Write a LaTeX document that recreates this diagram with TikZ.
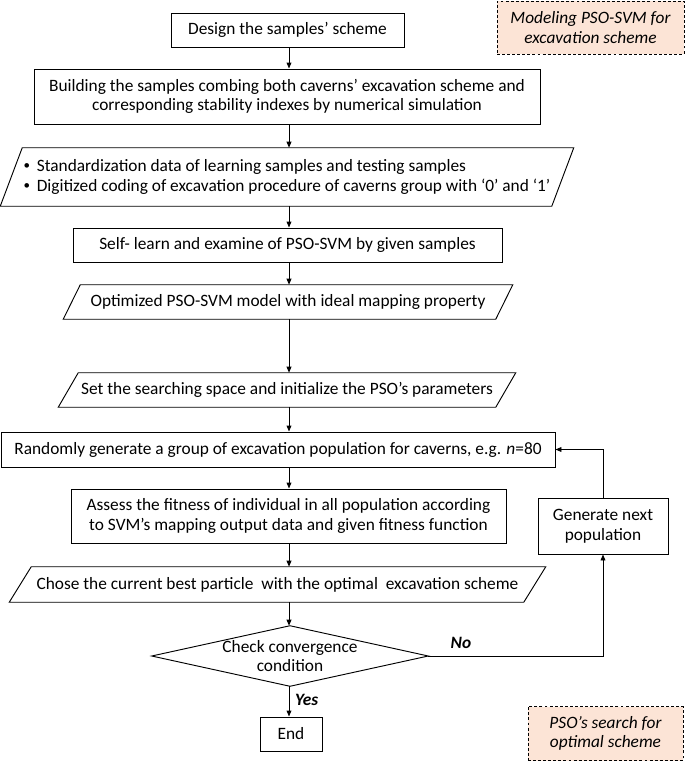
\documentclass[tikz,border=0pt]{standalone}
\usepackage{fontspec}
\setmainfont{Carlito}
\usetikzlibrary{arrows.meta,calc}
\definecolor{peach}{HTML}{FCE4D6}
\newcommand{\fs}{\fontsize{13}{14.8}\selectfont}
\tikzset{
  box/.style={draw, line width=0.7pt, align=center, inner sep=0pt},
  ghost/.style={draw=none, align=center, inner sep=0pt},
  note/.style={draw, line width=0.7pt, dash pattern=on 2.2pt off 1.6pt, fill=peach, align=center, inner sep=0pt, font=\fs\itshape},
  arr/.style={line width=0.7pt, -{Triangle[length=4.5pt,width=3.6pt]}},
  ln/.style={line width=0.7pt},
}
\newcommand{\paradraw}[2]{\draw[ln] ([xshift=#2]#1.north west) -- ([xshift=#2]#1.north east) -- ([xshift=-#2]#1.south east) -- ([xshift=-#2]#1.south west) -- cycle;}
\newcommand{\bul}{\raisebox{0.12em}{\scalebox{0.75}{•}}\hspace{5pt}}
\begin{document}
\begin{tikzpicture}[x=0.75pt,y=-0.75pt,font=\fs]
\useasboundingbox (0,0) rectangle (685,761);
\coordinate (X) at (289,0);
\node[box, minimum width=174.75pt, minimum height=25.5pt] (design) at (287.5,30) {Design the samples’ scheme};
\node[box, minimum width=379.5pt, minimum height=41.25pt] (build) at (287,96.5) {Building the samples combing both caverns’ excavation scheme and\\corresponding stability indexes by numerical simulation};
\node[ghost, minimum width=413.25pt, minimum height=43.5pt, align=left] (std) at (287,177) {\bul Standardization data of learning samples and testing samples\\\bul Digitized coding of excavation procedure of caverns group with ‘0’ and ‘1’};
\paradraw{std}{8.25pt}
\node[box, minimum width=321.75pt, minimum height=25.5pt] (self) at (287.5,245) {Self- learn and examine of PSO-SVM by given samples};
\node[ghost, minimum width=324pt, minimum height=25.5pt] (opt) at (288,302) {Optimized PSO-SVM model with ideal mapping property};
\paradraw{opt}{6.4pt}
\node[ghost, minimum width=327.75pt, minimum height=25.5pt] (set) at (287,390) {Set the searching space and initialize the PSO’s parameters};
\paradraw{set}{7.5pt}
\node[box, minimum width=415.5pt, minimum height=26.25pt] (rand) at (278,449.5) {Randomly generate a group of excavation population for caverns, e.g. \textit{n}=80};
\node[box, minimum width=326.25pt, minimum height=40.5pt] (assess) at (288.5,516) {Assess the fitness of individual in all population according\\to SVM’s mapping output data and given fitness function};
\node[box, minimum width=97.5pt, minimum height=42pt] (gen) at (603,526) {Generate next\\population};
\node[ghost, minimum width=385.5pt, minimum height=26.25pt] (chose) at (277.5,584.5) {Chose the current best particle\ \ with the optimal\ \ excavation scheme};
\paradraw{chose}{8.25pt}
\node[ghost, minimum width=207pt, minimum height=45pt] (chk) at (290,656) {Check convergence\\condition};
\draw[ln] (chk.north) -- (chk.east) -- (chk.south) -- (chk.west) -- cycle;
\node[box, minimum width=46.5pt, minimum height=25.5pt] (end) at (291,734) {End};
\node[note, minimum width=140.25pt, minimum height=39.75pt] (n1) at (590.5,27.5) {Modeling PSO-SVM for\\excavation scheme};
\node[note, minimum width=116.25pt, minimum height=40.5pt] (n2) at (605.5,733.5) {PSO’s search for\\optimal scheme};
% main arrows
\draw[arr] (design.south -| X) -- (build.north -| X);
\draw[arr] (build.south -| X) -- (std.north -| X);
\draw[arr] (std.south -| X) -- (self.north -| X);
\draw[arr] (self.south -| X) -- (opt.north -| X);
\draw[arr] (opt.south -| X) -- (set.north -| X);
\draw[arr] (set.south -| X) -- (rand.north -| X);
\draw[arr] (rand.south -| X) -- (assess.north -| X);
\draw[arr] (assess.south -| X) -- (chose.north -| X);
\draw[arr] (chose.south -| X) -- (chk.north -| X);
\draw[arr] (chk.south -| X) -- (end.north -| X) node[pos=0.45, right=1pt, font=\fs\bfseries\itshape] {Yes};
% loop
\coordinate (c1) at (gen.south |- chk.east);
\draw[arr] (chk.east) -- (c1) -- (gen.south);
\node[font=\fs\bfseries\itshape] (no) at (461,643) {No};
\coordinate (c2) at (gen.north |- rand.east);
\draw[arr] (gen.north) -- (c2) -- (rand.east);
\end{tikzpicture}
\end{document}
